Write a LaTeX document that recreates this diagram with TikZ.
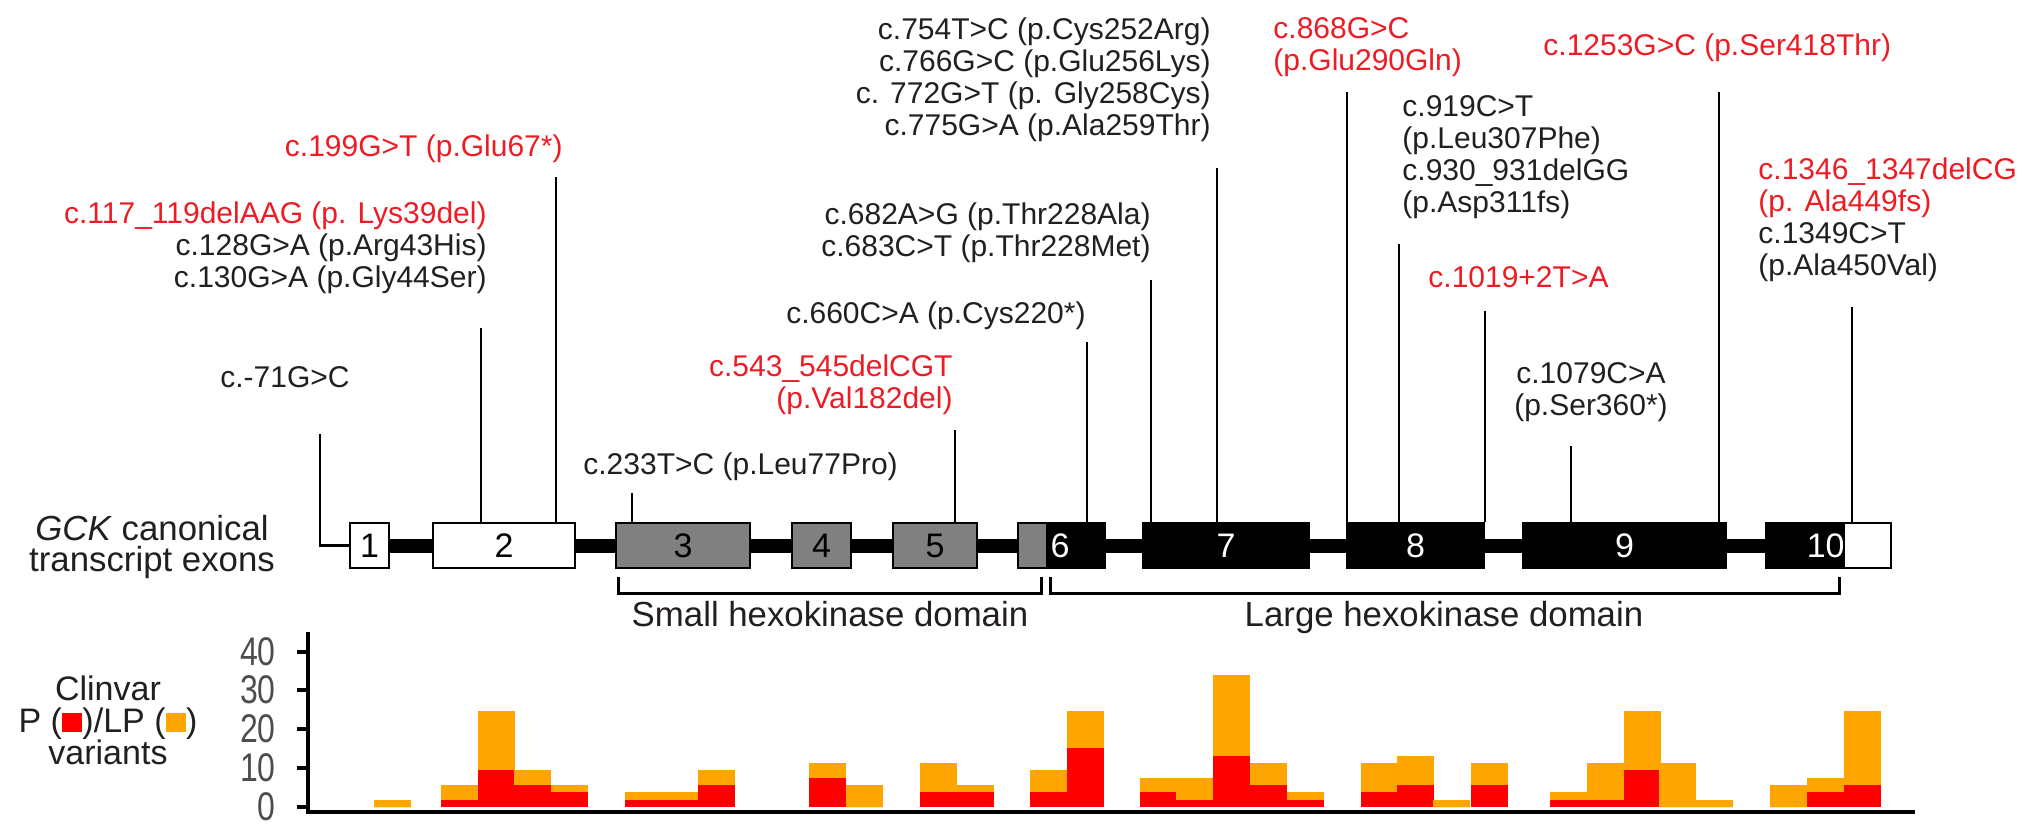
\documentclass[tikz,border=0pt]{standalone}
\usepackage{fontspec}
\setmainfont{Liberation Sans}
\usetikzlibrary{backgrounds}
\definecolor{labred}{RGB}{237,28,36}
\definecolor{txt}{RGB}{35,31,32}
\definecolor{pred}{RGB}{255,0,0}
\definecolor{lporange}{RGB}{255,165,0}
\definecolor{exgray}{RGB}{128,128,128}
\definecolor{axgray}{RGB}{77,77,77}
\begin{document}
\begin{tikzpicture}[x=0.5pt,y=-0.5pt,
  lab/.style={font=\fontsize{15}{16}\selectfont, text=txt, inner sep=0pt},
  redlab/.style={lab, text=labred},
  exonbox/.style={draw=black, line width=1pt, minimum height=22.5pt, inner sep=0pt, font=\fontsize{17}{17}\selectfont},
  numw/.style={text=white, inner sep=0pt, font=\fontsize{17}{17}\selectfont},
  stem/.style={line width=1.2pt, draw=black},
  bracket/.style={line width=1.5pt, draw=black},
  domlab/.style={font=\fontsize{17.4}{20}\selectfont, text=txt, inner sep=0pt},
  ticklab/.style={font=\fontsize{20}{20}\selectfont, text=axgray, inner sep=0pt},
  leglab/.style={font=\fontsize{17}{16}\selectfont, text=txt, inner sep=0pt, align=center},
  axisline/.style={line width=2pt, draw=black}
]
\useasboundingbox (0,0) rectangle (2031,836);

% ---------- exons ----------
\node[exonbox, fill=white, minimum width=19.5pt] (ex1) at (369.5,545.5) {1};
\node[exonbox, fill=white, minimum width=71pt] (ex2) at (504,545.5) {2};
\node[exonbox, fill=exgray, minimum width=67pt] (ex3) at (683,545.5) {3};
\node[exonbox, fill=exgray, minimum width=29.5pt] (ex4) at (821.5,545.5) {4};
\node[exonbox, fill=exgray, minimum width=42pt] (ex5) at (935,545.5) {5};
\node[exonbox, minimum width=43.5pt] (ex6) at (1061.5,545.5) {};
\node[exonbox, fill=black, text=white, minimum width=83pt] (ex7) at (1226,545.5) {7};
\node[exonbox, fill=black, text=white, minimum width=68.5pt] (ex8) at (1415.5,545.5) {8};
\node[exonbox, fill=black, text=white, minimum width=101.5pt] (ex9) at (1624.5,545.5) {9};
\node[exonbox, minimum width=62.5pt] (ex10) at (1828.5,545.5) {};
\node[numw] (n6) at (1060,545.5) {6};
\node[numw, anchor=east] (n10) at (1845,545.5) {10};

\begin{pgfonlayer}{background}
  \draw[line width=7pt] (ex1.east) -- (ex10.west);
  \fill[exgray] (1018,523) rectangle (1046,568);
  \fill[black] (1046,523) rectangle (1105,568);
  \fill[black] (1766,523) rectangle (1845,568);
  \fill[white] (1845,523) rectangle (1891,568);
\end{pgfonlayer}

\node[font=\fontsize{17.4}{15.5}\selectfont, text=txt, inner sep=0pt, align=center] (gck) at (152,547) {\textit{GCK} canonical\\transcript exons};

% ---------- domains ----------
\draw[bracket] (618,577) -- (618,593) -- (1041,593) -- (1041,577);
\draw[bracket] (1050,577) -- (1050,593) -- (1839,593) -- (1839,577);
\node[domlab, anchor=base] (dsmall) at (830,626) {Small hexokinase domain};
\node[domlab, anchor=base] (dlarge) at (1444,626) {Large hexokinase domain};

% ---------- variant labels ----------
\node[redlab, anchor=north east] (v199) at (563,134) {c.199G>T (p.Glu67*)};
\node[lab, anchor=north east, align=right] (v117) at (487,201) {\textcolor{labred}{c.117\_119delAAG (p. Lys39del)}\\c.128G>A (p.Arg43His)\\c.130G>A (p.Gly44Ser)};
\node[lab, anchor=north] (v71) at (285,366) {c.-71G>C};
\node[lab, anchor=north west] (v233) at (583,452) {c.233T>C (p.Leu77Pro)};
\node[redlab, anchor=north east, align=right] (v543) at (953,354) {c.543\_545delCGT\\(p.Val182del)};
\node[lab, anchor=north east] (v660) at (1086,301) {c.660C>A (p.Cys220*)};
\node[lab, anchor=north east, align=right] (v682) at (1151,202) {c.682A>G (p.Thr228Ala)\\c.683C>T (p.Thr228Met)};
\node[lab, anchor=north east, align=right] (v754) at (1211,17) {c.754T>C (p.Cys252Arg)\\c.766G>C (p.Glu256Lys)\\c. 772G>T (p. Gly258Cys)\\c.775G>A (p.Ala259Thr)};
\node[redlab, anchor=north west, align=left] (v868) at (1273,17) {c.868G>C\\(p.Glu290Gln)};
\node[redlab, anchor=north west] (v1253) at (1543,33) {c.1253G>C (p.Ser418Thr)};
\node[lab, anchor=north west, align=left] (v919) at (1402,95) {c.919C>T\\(p.Leu307Phe)\\c.930\_931delGG\\(p.Asp311fs)};
\node[redlab, anchor=north west] (v1019) at (1428,266) {c.1019+2T>A};
\node[lab, anchor=north, align=center] (v1079) at (1591,362) {c.1079C>A\\(p.Ser360*)};
\node[lab, anchor=north west, align=left] (v1346) at (1758,157) {\textcolor{labred}{c.1346\_1347delCG}\\\textcolor{labred}{(p. Ala449fs)}\\c.1349C>T\\(p.Ala450Val)};

% ---------- stems ----------
\coordinate (s1) at (320,434);
\coordinate (s2) at (481,328);
\coordinate (s3) at (556,177);
\coordinate (s4) at (632,493);
\coordinate (s5) at (955,430);
\coordinate (s6) at (1087,342);
\coordinate (s7) at (1151,280);
\coordinate (s8) at (1217,168);
\coordinate (s9) at (1347,92);
\coordinate (s10) at (1399,244);
\coordinate (s11) at (1485,311);
\coordinate (s12) at (1571,446);
\coordinate (s13) at (1719,92);
\coordinate (s14) at (1852,307);
\draw[stem] (s1) |- (ex1.west);
\draw[stem] (s2) -- (s2 |- ex2.north);
\draw[stem] (s3) -- (s3 |- ex2.north);
\draw[stem] (s4) -- (s4 |- ex3.north);
\draw[stem] (s5) -- (s5 |- ex5.north);
\draw[stem] (s6) -- (s6 |- ex6.north);
\draw[stem] (s7) -- (s7 |- ex7.north);
\draw[stem] (s8) -- (s8 |- ex7.north);
\draw[stem] (s9) -- (s9 |- ex8.north);
\draw[stem] (s10) -- (s10 |- ex8.north);
\draw[stem] (s11) -- (s11 |- ex8.north);
\draw[stem] (s12) -- (s12 |- ex9.north);
\draw[stem] (s13) -- (s13 |- ex9.north);
\draw[stem] (s14) -- (s14 |- ex10.north);

% ---------- bar chart ----------
\foreach \x/\r/\t in {374/0/1, 441/1/3, 478/5/13, 514/3/5, 551/2/3, 625/1/2, 661/1/2, 698/3/5,
  809/4/6, 846/0/3, 920/2/6, 957/2/3, 1030/2/5, 1067/8/13, 1140/2/4, 1176/1/4, 1213/7/18,
  1250/3/6, 1287/1/2, 1361/2/6, 1397/3/7, 1433/0/1, 1471/3/6, 1550/1/2, 1587/1/6, 1624/5/13,
  1659/0/6, 1696/0/1, 1770/0/3, 1807/2/4, 1844/3/13}
{
  \fill[lporange] (\x,807) rectangle ++(36.7,-\t*7.35);
  \fill[pred] (\x,807) rectangle ++(36.7,-\r*7.35);
}
\draw[axisline] (308,632) -- (308,812) -- (1915,812);
\foreach \v/\yy in {0/807,10/768,20/729,30/690,40/652}
{
  \draw[axisline] (297,\yy) -- (308,\yy);
  \node[ticklab, anchor=east] at (276,\yy) {\scalebox{0.8}[1]{\v}};
}
\node[leglab] (legend) at (108,720) {Clinvar\\P (\textcolor{pred}{\rule{0.6em}{0.55em}})/LP (\textcolor{lporange}{\rule{0.6em}{0.55em}})\\variants};
\end{tikzpicture}
\end{document}
